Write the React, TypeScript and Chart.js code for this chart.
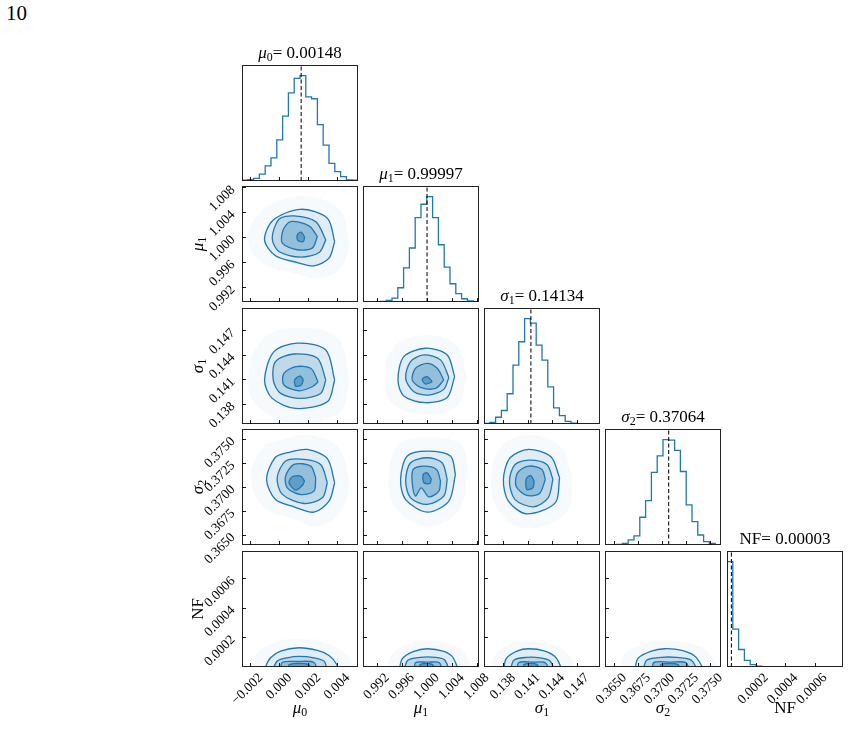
import { useEffect, useRef } from "react";
import { Chart, registerables } from "chart.js";

Chart.register(...registerables);

const SERIF = '"Liberation Serif", "Times New Roman", serif';
const BLUE = "#1f77b4";

// ---- parameters -------------------------------------------------------
const PARAM_LABELS = [
  { sym: "μ", sub: "0", italic: true },
  { sym: "μ", sub: "1", italic: true },
  { sym: "σ", sub: "1", italic: true },
  { sym: "σ", sub: "2", italic: true },
  { sym: "NF", sub: "", italic: false },
];

// posterior medians (dashed lines) and the text quoted above each marginal
const MEDIANS = [0.00148, 0.99997, 0.14134, 0.37064, 0.00003];
const MEDIAN_TEXT = ["0.00148", "0.99997", "0.14134", "0.37064", "0.00003"];

// axis extents
const RANGE_MU0 = [-0.0026, 0.0054];
const RANGE_MU1 = [0.9897, 1.0083];
const RANGE_SIGMA1 = [0.1356, 0.1498];
const RANGE_SIGMA2 = [0.364, 0.3761];
const RANGE_NF = [0, 0.00079];
const RANGES = [RANGE_MU0, RANGE_MU1, RANGE_SIGMA1, RANGE_SIGMA2, RANGE_NF];

// tick positions and label precision
const TICKS_MU0 = [-0.002, 0.0, 0.002, 0.004];
const TICKS_MU1 = [0.992, 0.996, 1.0, 1.004, 1.008];
const TICKS_SIGMA1 = [0.138, 0.141, 0.144, 0.147];
const TICKS_SIGMA2 = [0.365, 0.3675, 0.37, 0.3725, 0.375];
const TICKS_NF = [0.0002, 0.0004, 0.0006];
const TICKS = [TICKS_MU0, TICKS_MU1, TICKS_SIGMA1, TICKS_SIGMA2, TICKS_NF];
const TICK_DECIMALS = [3, 3, 3, 4, 4];

// ---- 1-D marginals: 20 equal bins across each axis range --------------
const HIST_MU0 = [7, 13, 25, 66, 143, 220, 390, 616, 836, 974, 1000, 798, 780, 535, 341, 168, 88, 42, 10, 7];
const HIST_MU1 = [0, 1, 3, 6, 16, 37, 135, 324, 512, 801, 927, 1000, 801, 543, 330, 173, 79, 31, 10, 3];
const HIST_SIGMA1 = [6, 16, 64, 128, 287, 558, 780, 1000, 957, 748, 605, 352, 153, 80, 25, 7, 2, 1, 0, 0];
const HIST_SIGMA2 = [3, 3, 6, 16, 48, 86, 263, 421, 688, 846, 1000, 995, 898, 697, 380, 222, 95, 32, 16, 3];
const HIST_NF = [1000, 360, 166, 63, 22, 9, 3, 2, 2, 1, 1, 1, 1, 1, 1, 1, 1, 1, 1, 1];
const HISTOGRAMS = [HIST_MU0, HIST_MU1, HIST_SIGMA1, HIST_SIGMA2, HIST_NF];

// ---- 2-D marginals ------------------------------------------------------
// contour vertices are given as offsets [dx, dy] from CONTOUR_CENTRE,
// measured in units of CONTOUR_SPREAD; levels run outer (2σ) → inner (0.5σ)
const CONTOUR_CENTRE = [0.00148, 0.99997, 0.14134, 0.37064, 0];
const CONTOUR_SPREAD = [0.00118, 0.0022, 0.0019, 0.00164, 0.0000655];

const C_MU1_MU0 = [
  [[1.96, -0.26], [1.53, 1.44], [-0.03, 2.09], [-1.63, 1.31], [-2.14, -0.14], [-1.5, -1.3], [-0.22, -1.79], [0.75, -2.03], [1.63, -1.47]],
  [[1.44, -0.14], [0.85, 1.19], [-0.42, 1.61], [-1.3, 1.36], [-1.69, -0.02], [-1.3, -0.99], [-0.03, -1.4], [1.05, -1.06]],
  [[0.95, 0.1], [0.46, 0.88], [-0.62, 1.19], [-1.05, 0.59], [-1.1, -0.38], [-0.22, -0.86], [0.65, -0.74]],
  [[0.2, 0.1], [0.0, 0.42], [-0.23, 0.22], [-0.19, -0.19], [0.13, -0.26]],
];
const C_SIGMA1_MU0 = [
  [[1.96, -0.19], [1.44, 1.75], [-0.22, 2.19], [-1.59, 1.64], [-2.14, -0.19], [-1.69, -1.37], [-0.32, -2.02], [1.53, -1.59]],
  [[1.44, -0.19], [0.95, 1.21], [-0.42, 1.49], [-1.5, 1.0], [-1.63, -0.19], [-1.2, -1.05], [-0.03, -1.37], [1.14, -1.05]],
  [[0.99, -0.3], [0.56, 0.57], [-0.32, 0.67], [-1.01, 0.24], [-1.01, -0.51], [-0.13, -0.88], [0.65, -0.62]],
  [[0.13, -0.15], [-0.09, 0.07], [-0.38, -0.19], [-0.32, -0.58], [0.01, -0.51]],
];
const C_SIGMA1_MU1 = [
  [[2.01, 0.03], [1.47, 1.43], [-0.11, 1.86], [-1.69, 1.32], [-2.12, -0.19], [-1.69, -1.22], [-0.11, -1.65], [1.47, -1.31]],
  [[1.59, -0.02], [0.98, 1.11], [-0.23, 1.43], [-1.2, 1.0], [-1.56, -0.08], [-0.96, -0.94], [0.13, -1.16], [1.22, -0.79]],
  [[1.22, -0.19], [0.74, 0.57], [0.01, 0.89], [-0.84, 0.57], [-1.08, -0.19], [-0.47, -0.66], [0.62, -0.73]],
  [[0.38, -0.3], [0.01, 0.03], [-0.35, -0.14], [-0.11, -0.45]],
];
const C_SIGMA2_MU0 = [
  [[1.96, -0.09], [1.53, 1.44], [0.36, 2.03], [-0.81, 1.82], [-1.53, 1.5], [-2.02, 0.12], [-1.5, -1.16], [-0.42, -1.62], [0.75, -1.96], [1.63, -1.26]],
  [[1.53, -0.09], [1.14, 1.07], [0.17, 1.4], [-0.91, 1.29], [-1.4, 0.23], [-1.1, -0.83], [0.17, -1.41], [1.24, -1.05]],
  [[0.85, 0.23], [0.56, 0.97], [-0.42, 1.08], [-0.91, 0.33], [-0.81, -0.41], [-0.03, -0.84], [0.75, -0.62]],
  [[0.2, 0.01], [-0.03, 0.33], [-0.52, 0.29], [-0.71, -0.09], [-0.32, -0.56], [0.07, -0.26]],
];
const C_SIGMA2_MU1 = [
  [[2.07, 0.44], [1.71, 1.61], [0.01, 1.92], [-1.44, 1.61], [-1.93, 0.12], [-1.56, -1.16], [0.01, -1.96], [1.59, -1.26]],
  [[1.47, 0.12], [1.1, 1.18], [0.01, 1.5], [-1.2, 1.18], [-1.56, 0.02], [-1.2, -1.05], [0.01, -1.47], [1.22, -0.94]],
  [[0.98, 0.01], [0.69, 0.76], [-0.23, 0.97], [-1.01, 0.76], [-1.08, -0.09], [-0.84, -0.94], [-0.42, -0.41], [0.13, -0.99], [0.86, -0.62]],
  [[0.31, 0.16], [0.01, 0.54], [-0.28, 0.44], [-0.23, -0.09], [0.21, -0.13]],
];
const C_SIGMA2_SIGMA1 = [
  [[1.85, 0.23], [1.29, 1.56], [-0.15, 2.03], [-1.34, 1.5], [-1.77, 0.12], [-1.45, -1.26], [-0.26, -2.07], [1.57, -1.37]],
  [[1.42, 0.12], [1.03, 1.07], [-0.05, 1.35], [-1.02, 1.07], [-1.38, 0.01], [-1.02, -1.16], [0.17, -1.62], [1.11, -1.05]],
  [[0.93, 0.12], [0.71, 0.76], [-0.15, 0.97], [-0.86, 0.54], [-0.95, -0.31], [-0.26, -0.9], [0.56, -0.77]],
  [[0.21, 0.01], [0.0, 0.37], [-0.3, 0.16], [-0.26, -0.52], [0.13, -0.41]],
];
// NF is bounded below by zero: these contours close underneath the axis
const C_NF_MU0 = [
  [[-2.1, -0.6], [-2.08, 0.0], [-1.79, 0.96], [-1.2, 1.66], [-0.13, 2.0], [0.95, 1.72], [1.63, 1.2], [2.08, 0.26], [2.12, -0.6]],
  [[-1.65, -0.6], [-1.63, -0.2], [-1.4, 0.61], [-0.81, 0.96], [-0.13, 1.1], [0.75, 0.96], [1.34, 0.61], [1.5, -0.2], [1.52, -0.6]],
  [[-1.2, -0.6], [-1.11, 0.47], [-0.23, 0.57], [0.75, 0.47], [0.85, -0.6]],
  [[-0.7, -0.6], [-0.7, 0.25], [0.45, 0.25], [0.45, -0.6]],
];
const C_NF_MU1 = [
  [[-2.05, -0.6], [-1.81, 0.85], [-0.96, 1.62], [0.01, 1.9], [1.22, 1.62], [1.9, 0.96], [2.15, -0.6]],
  [[-1.73, -0.6], [-1.4, 0.7], [-0.5, 1.0], [0.6, 1.0], [1.3, 0.7], [1.5, -0.6]],
  [[-0.9, -0.6], [-0.85, 0.45], [0.0, 0.5], [0.9, 0.45], [1.0, -0.6]],
  [[-0.5, -0.6], [-0.5, 0.25], [0.4, 0.25], [0.4, -0.6]],
];
const C_NF_SIGMA1 = [
  [[-1.77, -0.6], [-1.6, 0.85], [-0.9, 1.65], [-0.15, 1.9], [0.9, 1.65], [1.65, 0.9], [1.9, -0.6]],
  [[-1.34, -0.6], [-1.1, 0.7], [-0.3, 1.0], [0.6, 0.95], [1.25, 0.6], [1.42, -0.6]],
  [[-0.85, -0.6], [-0.8, 0.45], [0.1, 0.5], [0.95, 0.42], [1.1, -0.6]],
  [[-0.45, -0.6], [-0.45, 0.25], [0.4, 0.25], [0.4, -0.6]],
];
const C_NF_SIGMA2 = [
  [[-2.18, -0.6], [-1.95, 0.9], [-1.1, 1.65], [-0.25, 1.9], [0.9, 1.7], [1.75, 1.0], [2.13, -0.6]],
  [[-1.65, -0.6], [-1.4, 0.7], [-0.5, 1.0], [0.5, 1.0], [1.45, 0.7], [1.75, -0.6]],
  [[-1.0, -0.6], [-0.95, 0.45], [0.1, 0.5], [1.1, 0.45], [1.22, -0.6]],
  [[-0.5, -0.6], [-0.5, 0.25], [0.6, 0.25], [0.6, -0.6]],
];

const CONTOURS: Record<string, number[][][]> = {
  "1-0": C_MU1_MU0,
  "2-0": C_SIGMA1_MU0,
  "2-1": C_SIGMA1_MU1,
  "3-0": C_SIGMA2_MU0,
  "3-1": C_SIGMA2_MU1,
  "3-2": C_SIGMA2_SIGMA1,
  "4-0": C_NF_MU0,
  "4-1": C_NF_MU1,
  "4-2": C_NF_SIGMA1,
  "4-3": C_NF_SIGMA2,
};
// shading added inside each successive contour level
const LEVEL_ALPHA = [0.1, 0.17, 0.27, 0.45];
// faint cloud of outlying samples around the outer contour
const CLOUD_EXTENT = 1.45;
const CLOUD_ALPHA = 0.04;

// ---- grid geometry ---------------------------------------------------------
const N = 5;
const PANEL_LEFT = [242, 363, 484, 605, 727];
const PANEL_TOP = [65, 186, 308, 429, 551];
const PANEL = 116;
const LM = 72; // room left of each plot area for rotated tick labels
const BM = 72; // room below each plot area
const TM = 20;
const RM = 24;
const TICK_LEN = 4;

function formatTick(v: number, dec: number) {
  const s = Number(v).toFixed(dec);
  return s.startsWith("-") ? "\u2212" + s.slice(1) : s;
}

const framePlugin = {
  id: "panelFrame",
  afterDatasetsDraw(chart: any) {
    const { ctx, chartArea: a } = chart;
    ctx.save();
    ctx.strokeStyle = "#222";
    ctx.lineWidth = 1;
    ctx.strokeRect(a.left + 0.5, a.top + 0.5, a.right - a.left - 1, a.bottom - a.top - 1);
    ctx.restore();
  },
};

// every panel keeps exactly the same plot-area box, whatever its labels need
function fixedFit(axis: "x" | "y") {
  return (s: any) => {
    if (axis === "x") s.height = BM;
    else s.width = LM;
    s.paddingLeft = 0;
    s.paddingRight = 0;
    s.paddingTop = 0;
    s.paddingBottom = 0;
  };
}

function axisOptions(p: number, axis: "x" | "y", showLabels: boolean) {
  return {
    type: "linear",
    position: axis === "x" ? "bottom" : "left",
    min: RANGES[p][0],
    max: RANGES[p][1],
    afterBuildTicks: (s: any) => {
      s.ticks = TICKS[p].map((v) => ({ value: v }));
    },
    afterFit: fixedFit(axis),
    border: { display: false },
    grid: {
      display: true,
      drawOnChartArea: false,
      drawTicks: true,
      tickLength: -TICK_LEN,
      color: "#000",
      lineWidth: 0.9,
      z: 1,
    },
    ticks: {
      display: showLabels,
      autoSkip: false,
      minRotation: 45,
      maxRotation: 45,
      padding: axis === "x" ? 7 : 13,
      labelOffset: axis === "x" ? 10 : 0,
      color: "#000",
      font: { family: SERIF, size: 13.5 },
      callback: (v: number) => formatTick(v, TICK_DECIMALS[p]),
    },
  };
}

function histogramDatasets(p: number) {
  const counts = HISTOGRAMS[p];
  const [lo, hi] = RANGES[p];
  const w = (hi - lo) / counts.length;
  const steps = counts.map((c, k) => ({ x: lo + k * w, y: c }));
  steps.push({ x: hi, y: counts[counts.length - 1] });
  const top = Math.max(...counts) * 1.1;
  return [
    {
      data: [
        { x: MEDIANS[p], y: 0 },
        { x: MEDIANS[p], y: top },
      ],
      borderColor: "#111",
      borderWidth: 1.1,
      borderDash: [4, 2.5],
      pointRadius: 0,
      fill: false,
      clip: 0,
    },
    {
      data: steps,
      stepped: "before",
      borderColor: BLUE,
      borderWidth: 1.3,
      pointRadius: 0,
      fill: false,
      clip: 0,
    },
  ];
}

function contourDatasets(row: number, col: number) {
  const levels = CONTOURS[`${row}-${col}`];
  const cx = CONTOUR_CENTRE[col];
  const sx = CONTOUR_SPREAD[col];
  const cy = CONTOUR_CENTRE[row];
  const sy = CONTOUR_SPREAD[row];
  const toData = (pts: number[][], scale: number) => {
    const ring = pts.map(([a, b]) => ({ x: cx + a * scale * sx, y: cy + b * scale * sy }));
    ring.push(ring[0]);
    return ring;
  };
  const cloud = {
    data: toData(levels[0], CLOUD_EXTENT),
    borderWidth: 0,
    borderColor: "rgba(0,0,0,0)",
    backgroundColor: `rgba(31,119,180,${CLOUD_ALPHA})`,
    fill: "shape",
    tension: 0.4,
    pointRadius: 0,
    clip: 0,
  };
  const sets = levels.map((pts, k) => ({
    data: toData(pts, 1),
    borderColor: BLUE,
    borderWidth: 1.3,
    backgroundColor: `rgba(31,119,180,${LEVEL_ALPHA[k]})`,
    fill: "shape",
    tension: 0.3,
    pointRadius: 0,
    clip: 0,
  }));
  // innermost first: Chart.js paints the first dataset last
  return [...sets.reverse(), cloud];
}

function buildConfig(row: number, col: number): any {
  const diag = row === col;
  const histTop = diag ? Math.max(...HISTOGRAMS[col]) * 1.1 : 0;
  return {
    type: "line",
    data: { datasets: diag ? histogramDatasets(col) : contourDatasets(row, col) },
    plugins: [framePlugin],
    options: {
      animation: false,
      responsive: false,
      events: [],
      layout: { padding: { top: TM, right: RM, bottom: 0, left: 0 }, autoPadding: false },
      plugins: { legend: { display: false }, tooltip: { enabled: false } },
      scales: {
        x: axisOptions(col, "x", row === N - 1),
        y: diag
          ? {
              type: "linear",
              position: "left",
              min: 0,
              max: histTop,
              grid: { display: false },
              border: { display: false },
              ticks: { display: false },
              afterFit: fixedFit("y"),
            }
          : axisOptions(row, "y", col === 0),
      },
    },
  };
}

function Panel({ row, col }: { row: number; col: number }) {
  const ref = useRef<HTMLCanvasElement>(null);
  const w = LM + PANEL + RM;
  const h = TM + PANEL + BM;
  useEffect(() => {
    const chart = new Chart(ref.current as HTMLCanvasElement, buildConfig(row, col));
    return () => chart.destroy();
  }, [row, col]);
  return (
    <canvas
      ref={ref}
      width={w}
      height={h}
      style={{
        position: "absolute",
        left: PANEL_LEFT[col] - LM,
        top: PANEL_TOP[row] - TM,
        width: w,
        height: h,
      }}
    />
  );
}

function ParamLabel({ p }: { p: number }) {
  const l = PARAM_LABELS[p];
  return (
    <span>
      {l.italic ? <i>{l.sym}</i> : l.sym}
      {l.sub ? (
        <span style={{ fontSize: "0.7em", verticalAlign: "-0.28em", lineHeight: 0 }}>{l.sub}</span>
      ) : null}
    </span>
  );
}

export default function App() {
  const panels = [];
  for (let r = 0; r < N; r++) for (let c = 0; c <= r; c++) panels.push(<Panel key={`${r}-${c}`} row={r} col={c} />);

  return (
    <div
      style={{
        position: "absolute",
        left: 0,
        top: 0,
        width: 849,
        height: 743,
        background: "#fff",
        overflow: "hidden",
        fontFamily: SERIF,
        color: "#000",
      }}
    >
      <div style={{ position: "absolute", left: 6, top: 3, fontSize: 21, lineHeight: "21px" }}>10</div>
      {panels}
      {PARAM_LABELS.map((_, i) => (
        <div
          key={`t${i}`}
          style={{
            position: "absolute",
            left: PANEL_LEFT[i] - 20,
            width: PANEL + 40,
            top: PANEL_TOP[i] - 22,
            textAlign: "center",
            fontSize: 17,
            lineHeight: "20px",
            whiteSpace: "nowrap",
          }}
        >
          <ParamLabel p={i} />= {MEDIAN_TEXT[i]}
        </div>
      ))}
      {PARAM_LABELS.map((_, i) => (
        <div
          key={`x${i}`}
          style={{
            position: "absolute",
            left: PANEL_LEFT[i],
            width: PANEL,
            top: 698,
            textAlign: "center",
            fontSize: 17,
            lineHeight: "20px",
          }}
        >
          <ParamLabel p={i} />
        </div>
      ))}
      {PARAM_LABELS.slice(1).map((_, k) => (
        <div
          key={`y${k}`}
          style={{
            position: "absolute",
            left: 198,
            top: PANEL_TOP[k + 1] + PANEL / 2,
            transform: "translate(-50%, -50%) rotate(-90deg)",
            fontSize: 17,
            lineHeight: "18px",
            whiteSpace: "nowrap",
          }}
        >
          <ParamLabel p={k + 1} />
        </div>
      ))}
    </div>
  );
}
